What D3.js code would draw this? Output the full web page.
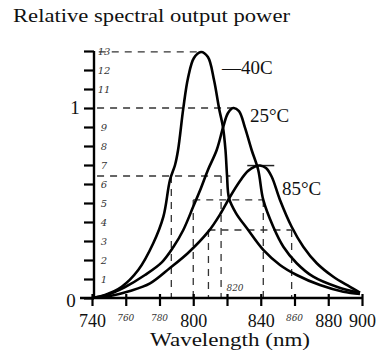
<!DOCTYPE html>
<html>
<head>
<meta charset="utf-8">
<script src="https://cdn.jsdelivr.net/npm/d3@7"></script>
<style>
  body { margin: 0; background: #fff; }
  text { font-family: "Liberation Serif", "Times New Roman", serif; fill: #111; }
  .hand { font-family: "DejaVu Serif", serif; font-style: italic; fill: #333; }
</style>
</head>
<body>
<svg id="chart" width="379" height="364"></svg>
<script>
// curves: wavelength (nm) and relative power
const waveM40 = [740, 747.7, 757.6, 767.4, 776.3, 782.3, 786.2, 789.2, 791, 794.1, 796.9, 800.4, 804.6, 808.7, 812.3, 815.3, 817.6, 819.1, 820, 821.2, 825.3, 831.7, 841.5, 851.4, 861.3, 875.1, 888.9, 898.8];
const powerM40 = [0, 0.016, 0.059, 0.147, 0.288, 0.428, 0.621, 0.70, 0.779, 0.998, 1.158, 1.263, 1.295, 1.268, 1.147, 0.998, 0.9, 0.779, 0.647, 0.526, 0.447, 0.368, 0.253, 0.174, 0.121, 0.068, 0.033, 0.021];

const wave25 = [740, 747.7, 759.6, 771.4, 781.5, 788.2, 794.1, 800, 804.6, 808.7, 813.9, 817.8, 820.6, 823.7, 827.1, 830.7, 834.6, 838.5, 841.5, 847.4, 853.4, 861.3, 871.1, 885, 898.8];
const power25 = [0, 0.013, 0.058, 0.121, 0.189, 0.268, 0.358, 0.481, 0.579, 0.674, 0.779, 0.902, 0.974, 1.0, 0.984, 0.895, 0.779, 0.674, 0.516, 0.375, 0.27, 0.183, 0.112, 0.059, 0.026];

const wave85 = [740, 750.7, 762.5, 774.4, 786.2, 796.9, 808.9, 816.3, 821.8, 827.7, 832.4, 836.6, 839.6, 843.1, 846.5, 851.4, 858.3, 865.2, 873.2, 883, 892.9, 898.8];
const power85 = [0, 0.011, 0.037, 0.077, 0.158, 0.237, 0.349, 0.446, 0.533, 0.616, 0.668, 0.692, 0.697, 0.684, 0.638, 0.516, 0.375, 0.27, 0.183, 0.112, 0.059, 0.028];

const seriesNames = ["\u201440C", "25\u00b0C", "85\u00b0C"];

// axis ticks
const xTicks = [740, 760, 780, 800, 820, 840, 860, 880, 900];
const xPrinted = ["740", "", "", "800", "", "840", "", "880", "900"];
const xHand = [[760, "760"], [780, "780"], [860, "860"]];
const yTicks = [0, 0.1, 0.2, 0.3, 0.4, 0.5, 0.6, 0.7, 0.8, 0.9, 1, 1.1, 1.2, 1.3];
const yHand = ["", "1", "2", "3", "4", "5", "6", "7", "8", "9", "", "11", "12", "13"];

// hand-drawn peak / half-width guides
const guideLevel = [1.295, 1.0, 0.642, 0.516, 0.358];
const guideFrom = [744, 743, 743, 800, 809];
const guideTo = [804, 823, 822, 841.5, 858.3];
const dropWave = [787, 800, 809, 816.5, 841.5, 858.3];
const dropTop = [0.642, 0.516, 0.358, 0.642, 0.516, 0.358];

const svg = d3.select("#chart");
const x = d3.scaleLinear().domain([740, 900]).range([92, 362]);
const y = d3.scaleLinear().domain([0, 1]).range([298, 108]);

// title and axis title
svg.append("text").attr("x", 13).attr("y", 22)
  .attr("font-size", 19).attr("textLength", 277).attr("lengthAdjust", "spacingAndGlyphs")
  .text("Relative spectral output power");
svg.append("text").attr("x", 150).attr("y", 346)
  .attr("font-size", 19).attr("textLength", 160).attr("lengthAdjust", "spacingAndGlyphs")
  .text("Wavelength (nm)");

// dashed guides
const guides = svg.append("g").attr("stroke", "#333").attr("stroke-width", 1.3)
  .attr("stroke-dasharray", "7,6").attr("fill", "none");
guideLevel.forEach((v, i) => {
  guides.append("line").attr("x1", x(guideFrom[i])).attr("x2", x(guideTo[i]))
    .attr("y1", y(v)).attr("y2", y(v));
});
dropWave.forEach((w, i) => {
  guides.append("line").attr("x1", x(w)).attr("x2", x(w))
    .attr("y1", y(dropTop[i])).attr("y2", y(0));
});
// small cap over the 85C peak
svg.append("line").attr("x1", x(832)).attr("x2", x(848))
  .attr("y1", y(0.697)).attr("y2", y(0.697)).attr("stroke", "#222").attr("stroke-width", 1.5);

// curves
const line = d3.line().x(d => x(d[0])).y(d => y(d[1])).curve(d3.curveCatmullRom.alpha(0.5));
[[waveM40, powerM40], [wave25, power25], [wave85, power85]].forEach(s => {
  svg.append("path").datum(d3.zip(s[0], s[1]))
    .attr("d", line).attr("fill", "none").attr("stroke", "#000").attr("stroke-width", 2.6);
});

// x axis
const xAxis = d3.axisBottom(x).tickValues(xTicks).tickSize(9).tickFormat((d, i) => xPrinted[i]);
const gx = svg.append("g").attr("transform", "translate(0,297)").call(xAxis);
gx.select(".domain").remove();
gx.selectAll(".tick line").attr("stroke", "#000").attr("stroke-width", 2.2).attr("y1", -3);
gx.selectAll(".tick text").attr("font-size", 18).attr("font-family", "Liberation Serif")
  .attr("fill", "#111").attr("y", 17);
svg.append("line").attr("x1", 80).attr("x2", x(900)).attr("y1", 298).attr("y2", 298)
  .attr("stroke", "#000").attr("stroke-width", 2.4);

xHand.forEach(h => {
  svg.append("text").attr("class", "hand").attr("x", x(h[0])).attr("y", 321)
    .attr("text-anchor", "middle").attr("font-size", 9).text(h[1]);
});
svg.append("text").attr("class", "hand").attr("x", x(820) + 8).attr("y", 291)
  .attr("text-anchor", "middle").attr("font-size", 9).text("820");

// y axis
const yAxis = d3.axisLeft(y).tickValues(yTicks).tickSize(10).tickFormat("");
const gy = svg.append("g").attr("transform", "translate(94,0)").call(yAxis);
gy.select(".domain").remove();
gy.selectAll(".tick line").attr("stroke", "#000").attr("stroke-width", 2.2);
svg.append("line").attr("x1", 94).attr("x2", 94).attr("y1", y(1.3)).attr("y2", 299)
  .attr("stroke", "#000").attr("stroke-width", 2.4);

svg.append("text").attr("x", 75).attr("y", y(1) + 6).attr("font-size", 19)
  .attr("text-anchor", "middle").text("1");
svg.append("text").attr("x", 71).attr("y", y(0) + 9).attr("font-size", 19)
  .attr("text-anchor", "middle").text("0");

yTicks.forEach((t, i) => {
  if (!yHand[i]) return;
  svg.append("text").attr("class", "hand").attr("x", 104).attr("y", y(t) + 4)
    .attr("text-anchor", "middle").attr("font-size", 10).text(yHand[i]);
});

// series labels
svg.append("text").attr("x", 222).attr("y", 74).attr("font-size", 19).text(seriesNames[0]);
svg.append("text").attr("x", 250).attr("y", 122).attr("font-size", 19).text(seriesNames[1]);
svg.append("text").attr("x", 282).attr("y", 195).attr("font-size", 19).text(seriesNames[2]);
</script>
</body>
</html>
